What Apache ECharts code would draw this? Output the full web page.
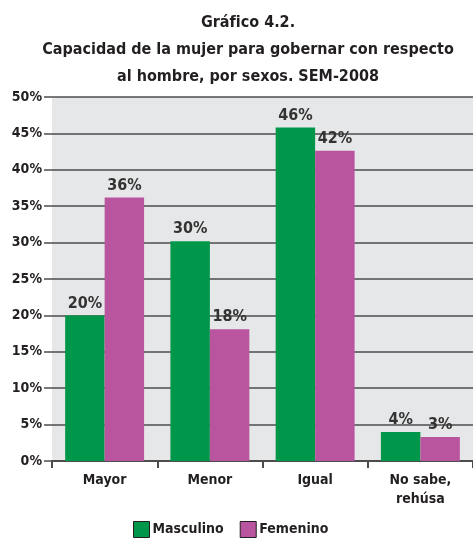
<!DOCTYPE html>
<html lang="es">
<head>
<meta charset="UTF-8" />
<title>Gráfico 4.2</title>
<script src="https://cdn.jsdelivr.net/npm/echarts@6/dist/echarts.min.js"></script>
<style>
  html, body { margin: 0; padding: 0; background: #fff; }
  #main { width: 473px; height: 542px; }
</style>
</head>
<body>
<div id="main"></div>
<script type="text/javascript">
  // datos
  var categorias = ['Mayor', 'Menor', 'Igual', 'No sabe,\nrehúsa']
  var masculino = [20, 30.2, 45.8, 4]
  var femenino = [36.2, 18.1, 42.6, 3.3]
  var etiquetasMasc = ['20%', '30%', '46%', '4%']
  var etiquetasFem = ['36%', '18%', '42%', '3%']

  var fuente = '"DejaVu Sans Condensed", "Liberation Sans Narrow", sans-serif'
  var myChart = echarts.init(document.getElementById('main'))

  function serie(nombre, datos, etiquetas, color) {
    return {
      name: nombre,
      type: 'bar',
      data: datos,
      barGap: '0%',
      barCategoryGap: '25%',
      itemStyle: { color: color },
      label: {
        show: true,
        position: 'top',
        distance: 4,
        color: '#333',
        fontFamily: fuente,
        fontWeight: 'bold',
        fontSize: 16,
        formatter: function (p) { return etiquetas[p.dataIndex] }
      }
    }
  }

  var option = {
    animation: false,
    title: {
      text: 'Gráfico 4.2.\nCapacidad de la mujer para gobernar con respecto\nal hombre, por sexos. SEM-2008',
      left: 243,
      top: 4,
      textAlign: 'center',
      textStyle: {
        fontFamily: fuente,
        fontWeight: 'bold',
        fontSize: 16,
        lineHeight: 27,
        color: '#231f20'
      }
    },
    legend: {
      bottom: 4,
      left: 128,
      padding: [0, 5],
      itemWidth: 16,
      itemHeight: 16,
      itemGap: 16,
      icon: 'rect',
      itemStyle: { borderColor: '#231f20', borderWidth: 1 },
      textStyle: { fontFamily: fuente, fontWeight: 'bold', fontSize: 14, color: '#231f20', padding: [0, 0, 0, -2] }
    },
    grid: {
      left: 52,
      right: 0,
      top: 97,
      bottom: 81,
      show: true,
      backgroundColor: '#e6e7e8',
      borderWidth: 0
    },
    xAxis: {
      type: 'category',
      data: categorias,
      axisLine: { lineStyle: { color: '#4d4d4d', width: 2 } },
      axisTick: { show: true, length: 7, lineStyle: { color: '#4d4d4d', width: 2 } },
      axisLabel: {
        color: '#231f20',
        fontFamily: fuente,
        fontWeight: 'bold',
        fontSize: 14,
        lineHeight: 19,
        margin: 10
      }
    },
    yAxis: {
      type: 'value',
      min: 0,
      max: 50,
      interval: 5,
      axisLine: { show: false },
      axisTick: { show: true, length: 8, lineStyle: { color: '#4d4d4d', width: 1.5 } },
      splitLine: { lineStyle: { color: '#4d4d4d', width: 1.5 } },
      axisLabel: {
        color: '#231f20',
        fontFamily: fuente,
        fontWeight: 'bold',
        fontSize: 14,
        margin: 10,
        formatter: '{value}%'
      }
    },
    series: [
      serie('Masculino', masculino, etiquetasMasc, '#00974a'),
      serie('Femenino', femenino, etiquetasFem, '#b9559e')
    ]
  }

  myChart.setOption(option)
</script>
</body>
</html>
